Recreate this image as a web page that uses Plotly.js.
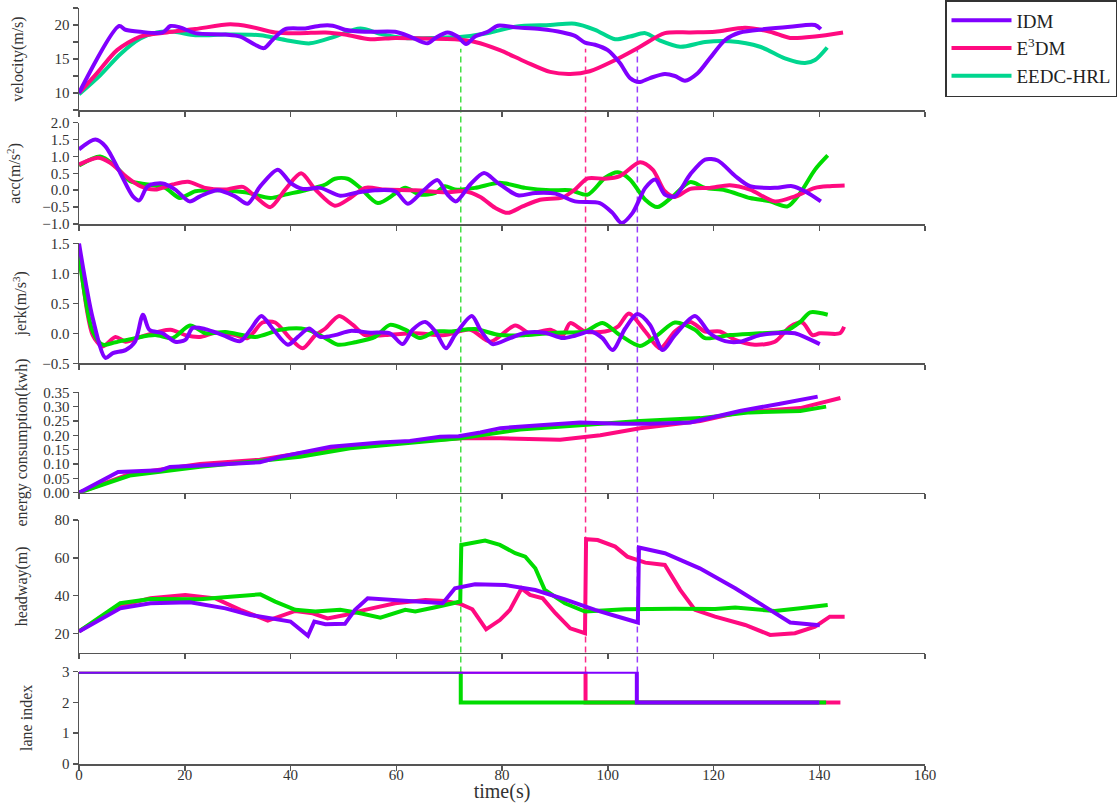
<!DOCTYPE html>
<html>
<head>
<meta charset="utf-8">
<script src="https://cdn.plot.ly/plotly-3.0.1.min.js"></script>
<style>html,body{margin:0;padding:0;background:#fff;overflow:hidden;}#chart{width:1118px;height:803px;}</style>
</head>
<body>
<div id="chart"></div>
<script>
// ---------------- DATA ----------------
const seriesNames = ['IDM', 'E<sup>3</sup>DM', 'EEDC-HRL'];
const xTicks = [0, 20, 40, 60, 80, 100, 120, 140, 160];

// velocity (m/s)
const tVelIDM = [0, 7.6, 8.8, 11.6, 15.8, 17.3, 19.1, 22, 27.7, 30.5, 33.3, 35, 36.6, 39, 42.8, 45.6, 48, 50.3, 54.1, 59.8, 62.6, 65.9, 67.4, 69.7, 71.6, 73.2, 74.9, 77.3, 79.2, 82.5, 87.2, 91.5, 93.8, 95.7, 97.6, 100, 102.3, 104.2, 105.9, 108, 110.8, 112.7, 114.6, 117, 119.3, 122.2, 125, 129.7, 134.5, 139.2, 140.3];
const velIDM = [10, 19.85, 19.3, 19.0, 18.9, 19.85, 19.65, 18.8, 18.6, 18.3, 17.1, 16.6, 17.8, 19.4, 19.5, 19.9, 19.9, 19.3, 19.0, 19.0, 18.3, 17.3, 18.1, 18.9, 18.3, 17.2, 18.3, 19.0, 19.9, 19.65, 19.4, 18.9, 18.4, 17.4, 17.1, 16.3, 14.4, 12.2, 11.6, 12.2, 12.8, 12.5, 11.8, 12.9, 15.1, 17.8, 18.9, 19.4, 19.75, 20.0, 19.4];
const tVelE3 = [0, 3.5, 7.2, 11.6, 16.6, 22, 28.6, 32.4, 37.1, 41.8, 46.6, 50.3, 55.1, 59.8, 65.5, 71.1, 74.9, 79.6, 84.4, 89.1, 92.9, 96.6, 101.4, 106.1, 110.8, 115.6, 120.3, 126, 130.7, 134.5, 139.2, 144.5];
const velE3 = [10, 13.0, 16.3, 18.3, 18.9, 19.4, 20.1, 19.75, 18.9, 18.8, 18.9, 18.6, 17.9, 18.1, 18.0, 17.9, 17.5, 16.3, 14.6, 13.1, 12.8, 13.2, 14.85, 16.8, 18.8, 18.9, 19.0, 19.6, 19.0, 18.1, 18.3, 18.9];
const tVelEE = [0, 4, 7.8, 11.6, 14.7, 18, 22, 27.7, 34.3, 39, 43.7, 48.4, 53.2, 57, 61.7, 67.4, 73, 77.8, 82.5, 89.1, 93.8, 97.6, 101.4, 104.2, 107.1, 109.9, 113.7, 118.4, 123.1, 128.8, 133.5, 137.3, 139.2, 141.5];
const velEE = [9.8, 12.6, 15.7, 18.0, 18.9, 19.0, 18.5, 18.6, 18.5, 17.8, 17.3, 18.3, 19.5, 18.7, 18.1, 18.1, 18.3, 18.9, 19.75, 20.0, 20.2, 19.3, 17.9, 18.3, 18.8, 17.7, 16.8, 17.5, 17.6, 16.8, 15.1, 14.4, 14.85, 16.7];

// acceleration (m/s^2)
const tAccIDM = [0, 3.1, 5, 7.8, 10.2, 11.4, 13, 15.8, 18.2, 20.9, 22.9, 26.2, 29.5, 31.9, 34.3, 37.6, 40, 42.3, 45.6, 49.4, 52.2, 56, 59.8, 62.2, 65, 67.8, 69.7, 71.3, 74, 76.6, 79.2, 83, 86.3, 90.1, 93.8, 98.5, 100.9, 102.6, 104.7, 107.1, 109, 110.8, 112.7, 115.6, 118.4, 120.8, 124.1, 126.9, 131.6, 134.9, 137.3, 140.3];
const accIDM = [1.21, 1.5, 1.3, 0.51, -0.18, -0.3, 0.12, 0.2, 0.02, -0.33, -0.18, 0.0, -0.18, -0.4, 0.12, 0.61, 0.22, 0.04, 0.07, -0.16, -0.08, 0.0, -0.03, -0.4, -0.03, 0.3, -0.13, -0.33, 0.17, 0.51, 0.22, -0.15, -0.08, -0.1, -0.33, -0.38, -0.67, -0.97, -0.67, 0.07, 0.32, -0.13, -0.18, 0.47, 0.91, 0.88, 0.42, 0.12, 0.07, 0.12, -0.03, -0.33];
const tAccE3 = [0, 3.6, 5.9, 8.8, 11.6, 14.4, 17.7, 20.6, 23.9, 27.7, 31, 33.3, 36.2, 39, 42, 44.7, 48.4, 51.3, 54.1, 57.9, 63.6, 69.3, 73, 75.9, 78.7, 81.1, 83.9, 87.2, 91.5, 93.8, 96.2, 99.5, 102.3, 106.1, 108.5, 110.8, 112.7, 115.6, 119.3, 123.1, 126.9, 131.6, 135.4, 139.2, 142, 144.8];
const accE3 = [0.76, 0.96, 0.81, 0.42, 0.12, 0.02, 0.17, 0.25, 0.07, 0.02, 0.1, -0.18, -0.5, 0.02, 0.5, 0.02, -0.46, -0.23, 0.07, 0.02, 0.0, -0.06, -0.03, -0.2, -0.52, -0.67, -0.48, -0.28, -0.21, 0.02, 0.35, 0.34, 0.42, 0.83, 0.61, -0.03, -0.2, 0.04, 0.07, 0.15, 0.02, -0.33, -0.18, 0.07, 0.12, 0.14];
const tAccEE = [0, 4, 6.9, 9.7, 13, 16.3, 19.1, 22, 26.7, 31.4, 36.2, 39, 42.8, 46.6, 48.4, 50.8, 53.2, 56.5, 59.8, 61.7, 64.5, 67.4, 69.2, 71.1, 74.9, 79.6, 84.4, 89.1, 92.9, 96.2, 99.5, 101.9, 104.2, 107.1, 109.4, 112.3, 115.6, 118.4, 122.2, 126.9, 130.7, 134, 136.4, 139.2, 141.6];
const accEE = [0.73, 1.0, 0.71, 0.27, 0.17, 0.07, -0.23, -0.03, 0.0, -0.06, -0.23, -0.13, 0.0, 0.17, 0.34, 0.34, 0.07, -0.38, -0.1, 0.07, -0.13, -0.08, 0.12, 0.02, 0.07, 0.22, 0.07, 0.0, 0.0, -0.13, 0.37, 0.53, 0.32, -0.28, -0.5, -0.18, 0.24, 0.07, 0.0, -0.23, -0.33, -0.48, -0.08, 0.61, 1.03];

// jerk (m/s^3)
const tJerkIDM = [0, 2.6, 5, 6.4, 8.8, 10.6, 12.1, 13.3, 15.8, 18.2, 20.1, 21.5, 23.9, 27.2, 30.5, 32.4, 34.5, 36.6, 39.5, 41.4, 43.5, 45.6, 48.4, 51.3, 55.1, 58.8, 61.2, 63.1, 65.5, 67.4, 69.4, 71.1, 74.3, 75.9, 78.2, 81.5, 84.4, 88.1, 91.5, 93.8, 96.7, 99, 100.9, 103.3, 105.6, 108, 110.4, 112.7, 116.5, 119.3, 122.2, 125, 128.8, 133.5, 135.4, 140.1];
const jerkIDM = [1.5, 0.25, -0.41, -0.33, -0.28, -0.14, 0.31, 0.06, 0.0, -0.14, -0.11, 0.09, 0.07, -0.03, -0.13, 0.06, 0.29, 0.08, -0.19, -0.06, 0.08, -0.06, -0.03, 0.04, 0.01, 0.0, -0.18, 0.06, 0.19, 0.03, -0.25, -0.03, 0.29, 0.06, -0.18, -0.08, 0.01, 0.01, -0.08, -0.04, 0.03, -0.08, -0.28, 0.08, 0.32, 0.14, -0.28, -0.03, 0.29, 0.0, -0.13, -0.14, -0.03, 0.01, 0.0, -0.18];
const tJerkE3 = [0, 2.6, 4.5, 6.9, 8.8, 11.6, 17.3, 20.1, 22.9, 25.8, 29.5, 31.9, 34.7, 37.1, 39.9, 42.3, 44.7, 46.6, 49.2, 51.8, 54.1, 57.9, 63.6, 69.2, 74, 77.8, 82.5, 85.3, 89.1, 91.5, 92.9, 95.7, 99.5, 101.9, 104, 107.1, 109.9, 112.7, 115.6, 118.4, 121.2, 124.1, 127.8, 131.6, 134.5, 136.8, 138.7, 140.1, 143.9, 144.7];
const jerkE3 = [1.4, -0.03, -0.22, -0.06, -0.14, -0.06, 0.06, -0.03, -0.06, 0.01, -0.03, -0.08, 0.18, 0.18, -0.08, -0.25, -0.03, 0.08, 0.29, 0.14, -0.03, -0.03, 0.0, -0.03, 0.06, -0.14, 0.13, 0.0, 0.06, -0.03, 0.17, 0.03, 0.03, 0.11, 0.33, 0.03, -0.25, 0.03, 0.19, 0.03, 0.03, -0.11, -0.19, -0.14, 0.11, 0.18, -0.03, 0.0, 0.0, 0.11];
const tJerkEE = [0, 2.6, 4.5, 6.9, 10.6, 14.4, 17.7, 21, 23.9, 27.7, 33.3, 38.1, 42.8, 46.6, 49, 52.2, 56, 58.8, 61.7, 64.5, 67.4, 70.2, 74.9, 79.6, 84.4, 90.1, 95.7, 99, 102.3, 106.1, 109.4, 112.7, 116.5, 118.4, 123.1, 128.8, 133.5, 136.4, 138.3, 141.6];
const jerkEE = [1.3, 0.03, -0.19, -0.15, -0.08, -0.03, -0.08, 0.13, 0.0, 0.02, -0.06, 0.06, 0.07, -0.08, -0.19, -0.15, -0.06, 0.14, 0.06, -0.08, 0.03, 0.03, 0.07, -0.03, -0.03, 0.01, 0.03, 0.17, -0.03, -0.21, -0.03, 0.18, 0.06, -0.08, -0.03, 0.0, 0.03, 0.19, 0.35, 0.31];

// energy consumption (kwh)
const tEnIDM = [0, 7.4, 15.3, 17.2, 22.9, 34.2, 38, 41.9, 47.6, 57, 62.6, 68.3, 71.8, 75.9, 79.7, 87.2, 94.8, 102.3, 108, 115.6, 119.3, 125, 132.6, 139.7];
const enIDM = [0, 0.072, 0.078, 0.09, 0.095, 0.106, 0.125, 0.14, 0.16, 0.175, 0.18, 0.195, 0.197, 0.21, 0.225, 0.235, 0.245, 0.24, 0.24, 0.245, 0.26, 0.285, 0.31, 0.335];
const tEnE3 = [0, 9.6, 22.9, 34.2, 41.8, 51.3, 64.5, 72.1, 79.7, 91, 98.6, 106.1, 117.5, 125, 136.4, 144];
const enE3 = [0, 0.065, 0.1, 0.115, 0.138, 0.16, 0.18, 0.19, 0.19, 0.185, 0.2, 0.225, 0.25, 0.28, 0.295, 0.33];
const tEnEE = [0, 9.6, 22.9, 34.2, 41.8, 51.3, 64.5, 72.1, 83.4, 94.8, 106.1, 117.5, 126.9, 136.4, 141.3];
const enEE = [0, 0.06, 0.09, 0.11, 0.125, 0.155, 0.175, 0.19, 0.22, 0.235, 0.25, 0.26, 0.28, 0.285, 0.3];

// headway (m)
const tHwIDM = [0, 7.8, 13.5, 21, 27.7, 32.4, 40, 41.8, 43.3, 44.5, 46.6, 50.3, 52.2, 54.6, 60.7, 68.8, 71.1, 74.9, 80.6, 86.3, 91.9, 97.6, 102.3, 105.7, 105.9, 110.8, 117.4, 124.1, 129.7, 134.5, 140.1];
const hwIDM = [20.9, 33.2, 35.9, 36.4, 33.2, 29.7, 26.2, 21.7, 18.6, 26.2, 24.8, 25, 32.4, 38.5, 37.6, 35.9, 43.8, 45.9, 45.6, 42.9, 38, 32.4, 28.5, 25.7, 65.4, 62.4, 54.4, 43.8, 34.1, 25.7, 24.2];
const tHwE3 = [0, 7.8, 13.5, 20.1, 25.8, 28.6, 30.5, 35.7, 40.9, 44.2, 47, 50.3, 54.1, 59.8, 65.5, 69.2, 72.1, 74.4, 77, 79.6, 81.5, 83.7, 85.3, 87.7, 90.1, 92.9, 95.7, 95.9, 98.1, 101.4, 103.7, 107.1, 110.8, 113.7, 116.5, 120.3, 126, 130.7, 135.4, 139.2, 142, 144.8];
const hwE3 = [21, 34.5, 38.5, 40.3, 38.5, 35, 32.4, 26.7, 31.8, 30.6, 27.9, 29.7, 32.4, 35.9, 37.6, 37.1, 35.6, 32.7, 22.1, 27, 32.4, 43.8, 40.3, 38.5, 30.6, 22.6, 20, 69.8, 69.4, 65.9, 60.6, 57.4, 56.2, 43, 32.4, 28.8, 24.4, 19.1, 20, 23.5, 28.8, 28.8];
const tHwEE = [0, 7.8, 13.5, 22.9, 28.6, 34.3, 37.1, 40.9, 44.7, 49.4, 53.2, 57, 61.7, 63.6, 67.4, 72.1, 72.3, 76.8, 79.6, 82.5, 84.4, 86.3, 88.1, 91.9, 95.7, 98.5, 103.3, 112.7, 120.3, 124.1, 131.6, 136.4, 141.6];
const hwEE = [21, 35.9, 38.2, 38, 39.4, 40.6, 36.8, 32.4, 31.5, 32.4, 30.6, 28.3, 32.4, 31.5, 33.8, 36.8, 66.8, 69.1, 66.8, 62.4, 60.6, 54.4, 42.9, 35.9, 31.5, 32, 32.7, 33, 32.9, 33.6, 31.8, 33.2, 35];

// lane index
const tLaneIDM = [0, 105.5, 105.5, 140];
const laneIDM = [3, 3, 2, 2];
const tLaneE3 = [0, 95.8, 95.8, 144];
const laneE3 = [3, 3, 2, 2];
const tLaneEE = [0, 72.2, 72.2, 141.3];
const laneEE = [3, 3, 2, 2];

// lane-change instants (marked by dashed lines)
const laneChangeT = [72.2, 95.8, 105.6];

// ---------------- STYLE ----------------
const C_IDM = '#8000ff', C_E3 = '#ff0a80', C_TEAL = '#00d68f', C_GREEN = '#00dc00';
const dashColors = ['#44e044', '#ff2a8a', '#9a3cff'];
const H = 803, W = 1118, MB = 39;
const PH = H - MB;
const panelPx = [[8,110],[122.7,224],[243.3,363.3],[392.3,492.7],[520,652.7],[671.7,764]];
const dom = panelPx.map(p => [Math.max(0, 1 - p[1]/PH), 1 - p[0]/PH]);
const FONT = 'Liberation Serif, Times New Roman, serif';
const LW = 4;

function tr(x, y, color, ax, name, rank, showleg, shape) {
  return {x: x, y: y, type: 'scatter', mode: 'lines', xaxis: 'x' + (ax === 1 ? '' : ax), yaxis: 'y' + (ax === 1 ? '' : ax),
    line: {color: color, width: LW, shape: shape || 'spline', smoothing: 0.8},
    name: name, legendrank: rank, showlegend: showleg, hoverinfo: 'skip'};
}

const traces = [
  tr(tVelEE, velEE, C_TEAL, 1, seriesNames[2], 3, true),
  tr(tVelE3, velE3, C_E3, 1, seriesNames[1], 2, true),
  tr(tVelIDM, velIDM, C_IDM, 1, seriesNames[0], 1, true),
  tr(tAccEE, accEE, C_GREEN, 2, seriesNames[2], 3, false),
  tr(tAccE3, accE3, C_E3, 2, seriesNames[1], 2, false),
  tr(tAccIDM, accIDM, C_IDM, 2, seriesNames[0], 1, false),
  tr(tJerkE3, jerkE3, C_E3, 3, seriesNames[1], 2, false),
  tr(tJerkEE, jerkEE, C_GREEN, 3, seriesNames[2], 3, false),
  tr(tJerkIDM, jerkIDM, C_IDM, 3, seriesNames[0], 1, false),
  tr(tEnE3, enE3, C_E3, 4, seriesNames[1], 2, false, 'linear'),
  tr(tEnEE, enEE, C_GREEN, 4, seriesNames[2], 3, false, 'linear'),
  tr(tEnIDM, enIDM, C_IDM, 4, seriesNames[0], 1, false, 'linear'),
  tr(tHwE3, hwE3, C_E3, 5, seriesNames[1], 2, false, 'linear'),
  tr(tHwEE, hwEE, C_GREEN, 5, seriesNames[2], 3, false, 'linear'),
  tr(tHwIDM, hwIDM, C_IDM, 5, seriesNames[0], 1, false, 'linear'),
  tr(tLaneE3, laneE3, C_E3, 6, seriesNames[1], 2, false, 'linear'),
  tr(tLaneEE, laneEE, C_GREEN, 6, seriesNames[2], 3, false, 'linear'),
  tr(tLaneIDM, laneIDM, C_IDM, 6, seriesNames[0], 1, false, 'linear')
];

const tickFont = {family: FONT, size: 15, color: '#333'};
const titleFont = {family: FONT, size: 16, color: '#333'};

function xax(i) {
  const o = {domain: [0, 1], range: [0, 160], tickvals: xTicks, showline: true, linecolor: '#555', linewidth: 1.5,
    ticks: 'outside', ticklen: 5, tickcolor: '#555', tickwidth: 1.5, showgrid: false, zeroline: false,
    showticklabels: i === 6, tickfont: tickFont, anchor: 'y' + (i === 1 ? '' : i), automargin: false, fixedrange: true};
  if (i === 6) {
    o.ticklabelstandoff = -9;
    o.title = {text: 'time(s)', font: {family: FONT, size: 20, color: '#333'}, standoff: 8};
  }
  return o;
}
function yax(i, range, title, standoff, extra) {
  return Object.assign({domain: dom[i-1], range: range, showline: true, linecolor: '#555', linewidth: 1.5,
    ticks: 'outside', ticklen: 5, tickcolor: '#555', tickwidth: 1.5, showgrid: false, zeroline: false,
    tickfont: tickFont, anchor: 'x' + (i === 1 ? '' : i), automargin: false, fixedrange: true,
    title: {text: title, font: titleFont, standoff: standoff}}, extra || {});
}

const layout = {
  width: W, height: H,
  margin: {l: 79, r: 193, t: 0, b: MB},
  paper_bgcolor: '#fff', plot_bgcolor: '#fff',
  font: {family: FONT, color: '#333'},
  showlegend: true,
  legend: {x: (1117 - 79) / 846, y: 1, xanchor: 'right', yanchor: 'top', bgcolor: '#fff',
    bordercolor: '#333', borderwidth: 1.5, font: {family: FONT, size: 19, color: '#222'},
    tracegroupgap: 0, itemwidth: 60},
  xaxis: xax(1), xaxis2: xax(2), xaxis3: xax(3), xaxis4: xax(4), xaxis5: xax(5), xaxis6: xax(6),
  yaxis: yax(1, [7.5, 22.5], 'velocity(m/s)', 27, {tick0: 0, dtick: 5,
    minor: {tick0: 0, dtick: 2.5, ticks: 'outside', ticklen: 5, tickcolor: '#555', tickwidth: 1.5, showgrid: false}}),
  yaxis2: yax(2, [-1, 2], 'acc(m/s<sup>2</sup>)', 17, {dtick: 0.5, tick0: 0, tickformat: '.1f'}),
  yaxis3: yax(3, [-0.5, 1.5], 'jerk(m/s<sup>3</sup>)', 11, {dtick: 0.5, tick0: 0, tickformat: '.1f'}),
  yaxis4: yax(4, [0, 0.35], 'energy consumption(kwh)', 11, {dtick: 0.05, tick0: 0, tickformat: '.2f'}),
  yaxis5: yax(5, [9.7, 80], 'headway(m)', 23, {tickvals: [20, 40, 60, 80]}),
  yaxis6: yax(6, [0, 3], 'lane index', 25, {dtick: 1, tick0: 0}),
  shapes: laneChangeT.map((t, k) => {
    const topPaper = dom[0][0] + (16.5 - 7.5) / 15 * (dom[0][1] - dom[0][0]);
    const botPaper = dom[5][0] + (2 - 0) / 3 * (dom[5][1] - dom[5][0]);
    return {type: 'line', xref: 'x', yref: 'paper', x0: t, x1: t, y0: botPaper, y1: topPaper,
      line: {color: dashColors[k], width: 1.5, dash: '6px,4px'}, layer: 'below'};
  })
};

Plotly.newPlot('chart', traces, layout, {staticPlot: true, displayModeBar: false});
</script>
</body>
</html>
